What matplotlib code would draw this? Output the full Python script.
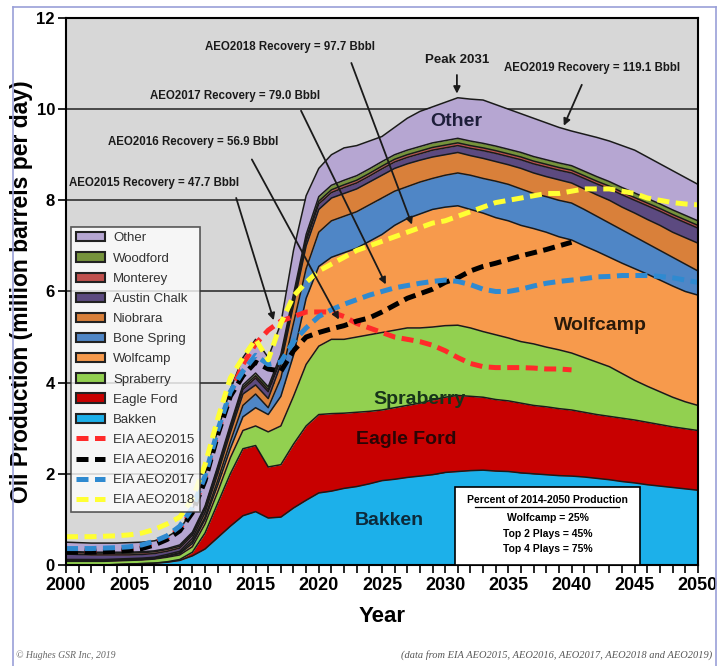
import numpy as np
import matplotlib
matplotlib.use("Agg")
import matplotlib.pyplot as plt
from matplotlib.patches import Patch, Rectangle
from matplotlib.lines import Line2D

plt.rcParams['font.family'] = ['Liberation Sans', 'DejaVu Sans']

years = np.arange(2000, 2051)
years_2040 = np.arange(2000, 2041)

# cumulative top of each play (million barrels per day), bottom to top
bakken_top = [0.0, 0.0, 0.0, 0.0, 0.01, 0.02, 0.03, 0.04, 0.06, 0.1,
              0.2, 0.35, 0.6, 0.85, 1.08, 1.17, 1.03, 1.05, 1.25, 1.42,
              1.58, 1.62, 1.68, 1.72, 1.78, 1.85, 1.88, 1.92, 1.95, 1.98,
              2.03, 2.05, 2.07, 2.08, 2.06, 2.05, 2.02, 2.0, 1.98, 1.96,
              1.95, 1.93, 1.9, 1.87, 1.83, 1.8, 1.76, 1.73, 1.7, 1.67, 1.64]
eagle_ford_top = [0.0, 0.0, 0.0, 0.0, 0.01, 0.02, 0.03, 0.04, 0.07, 0.12,
                  0.28, 0.7, 1.35, 2.0, 2.55, 2.62, 2.15, 2.2, 2.65, 3.05,
                  3.3, 3.32, 3.33, 3.35, 3.37, 3.4, 3.45, 3.5, 3.55, 3.62,
                  3.68, 3.72, 3.7, 3.68, 3.63, 3.6, 3.55, 3.5, 3.47, 3.43,
                  3.4, 3.35, 3.3, 3.26, 3.22, 3.18, 3.13, 3.08, 3.03, 2.99, 2.95]
spraberry_top = [0.08, 0.08, 0.08, 0.08, 0.09, 0.1, 0.11, 0.13, 0.17, 0.22,
                 0.4, 0.9, 1.6, 2.35, 2.95, 3.05, 2.92, 3.05, 3.7, 4.4,
                 4.8, 4.95, 4.95, 5.0, 5.05, 5.1, 5.15, 5.2, 5.2, 5.22,
                 5.25, 5.26, 5.2, 5.12, 5.05, 4.98, 4.9, 4.85, 4.78, 4.72,
                 4.65, 4.55, 4.45, 4.35, 4.2, 4.05, 3.92, 3.8, 3.68, 3.58, 3.5]
wolfcamp_top = [0.09, 0.09, 0.09, 0.09, 0.1, 0.11, 0.12, 0.14, 0.19, 0.25,
                0.47, 1.0, 1.75, 2.55, 3.25, 3.45, 3.3, 3.7, 4.6, 5.85,
                6.55, 6.75, 6.85, 6.95, 7.1, 7.25, 7.45, 7.6, 7.7, 7.8,
                7.85, 7.88, 7.8, 7.72, 7.62, 7.55, 7.45, 7.38, 7.3, 7.2,
                7.13, 7.0, 6.88, 6.75, 6.62, 6.5, 6.38, 6.25, 6.12, 6.0, 5.92]
bone_spring_top = [0.1, 0.1, 0.1, 0.1, 0.11, 0.12, 0.13, 0.15, 0.2, 0.27,
                   0.52, 1.05, 1.85, 2.7, 3.5, 3.75, 3.45, 4.1, 5.3, 6.5,
                   7.3, 7.55, 7.65, 7.75, 7.9, 8.05, 8.2, 8.3, 8.4, 8.48,
                   8.55, 8.6, 8.55, 8.48, 8.42, 8.35, 8.25, 8.15, 8.08, 8.0,
                   7.94, 7.8, 7.65, 7.5, 7.35, 7.2, 7.05, 6.9, 6.75, 6.6, 6.45]
niobrara_top = [0.12, 0.12, 0.12, 0.12, 0.13, 0.14, 0.15, 0.17, 0.23, 0.3,
                0.58, 1.15, 2.0, 2.9, 3.75, 3.95, 3.65, 4.4, 5.7, 7.0,
                7.8, 8.05, 8.15, 8.25, 8.4, 8.55, 8.7, 8.8, 8.88, 8.95,
                9.0, 9.05, 8.98, 8.92, 8.85, 8.78, 8.7, 8.6, 8.52, 8.45,
                8.38, 8.25, 8.12, 8.0, 7.85, 7.72, 7.58, 7.45, 7.3, 7.18, 7.06]
austin_chalk_top = [0.24, 0.23, 0.22, 0.22, 0.22, 0.22, 0.23, 0.25, 0.3, 0.37,
                    0.65, 1.23, 2.08, 2.98, 3.85, 4.1, 3.8, 4.5, 5.8, 7.1,
                    7.92, 8.17, 8.28, 8.38, 8.53, 8.69, 8.84, 8.94, 9.02, 9.1,
                    9.15, 9.2, 9.14, 9.09, 9.03, 8.96, 8.89, 8.8, 8.73, 8.66,
                    8.6, 8.48, 8.36, 8.25, 8.12, 8.0, 7.88, 7.76, 7.63, 7.51, 7.39]
monterey_top = [0.28, 0.27, 0.26, 0.26, 0.26, 0.26, 0.27, 0.29, 0.34, 0.41,
                0.69, 1.26, 2.12, 3.02, 3.9, 4.15, 3.85, 4.55, 5.86, 7.16,
                7.98, 8.23, 8.34, 8.44, 8.59, 8.75, 8.9, 9.0, 9.08, 9.16,
                9.21, 9.26, 9.2, 9.15, 9.09, 9.02, 8.95, 8.86, 8.79, 8.72,
                8.66, 8.54, 8.42, 8.31, 8.18, 8.06, 7.94, 7.82, 7.69, 7.57, 7.45]
woodford_top = [0.3, 0.29, 0.28, 0.28, 0.28, 0.28, 0.29, 0.31, 0.36, 0.44,
                0.72, 1.29, 2.16, 3.07, 3.95, 4.21, 3.91, 4.62, 5.94, 7.25,
                8.08, 8.33, 8.44, 8.54, 8.69, 8.85, 9.0, 9.1, 9.18, 9.26,
                9.31, 9.36, 9.3, 9.25, 9.19, 9.12, 9.05, 8.96, 8.89, 8.82,
                8.76, 8.64, 8.52, 8.41, 8.28, 8.16, 8.04, 7.92, 7.79, 7.67, 7.55]
other_top = [0.5, 0.49, 0.48, 0.48, 0.48, 0.49, 0.5, 0.53, 0.62, 0.78,
             1.2, 2.0, 2.95, 3.85, 4.55, 4.95, 4.55, 5.3, 6.9, 8.1,
             8.7, 9.0, 9.15, 9.2, 9.3, 9.4, 9.6, 9.8, 9.95, 10.05,
             10.15, 10.25, 10.22, 10.2, 10.1, 10.0, 9.9, 9.8, 9.7, 9.6,
             9.52, 9.45, 9.38, 9.3, 9.2, 9.1, 8.95, 8.8, 8.65, 8.5, 8.35]

# EIA total tight oil forecasts
aeo2015 = [0.32, 0.32, 0.32, 0.33, 0.34, 0.36, 0.4, 0.48, 0.6, 0.8,
           1.2, 1.9, 2.9, 3.75, 4.4, 4.85, 5.15, 5.35, 5.45, 5.55,
           5.55, 5.55, 5.45, 5.3, 5.2, 5.1, 5.0, 4.95, 4.9, 4.82,
           4.7, 4.55, 4.42, 4.35, 4.33, 4.33, 4.33, 4.32, 4.3, 4.3, 4.28]
aeo2016 = [0.28, 0.28, 0.28, 0.29, 0.3, 0.32, 0.36, 0.44, 0.56, 0.75,
           1.15, 1.85, 2.85, 3.7, 4.15, 4.45, 4.3, 4.25, 4.7, 5.0,
           5.1, 5.18, 5.25, 5.35, 5.42, 5.55, 5.7, 5.85, 5.95, 6.05,
           6.2, 6.3, 6.45, 6.55, 6.62, 6.7, 6.78, 6.85, 6.92, 7.0, 7.08]
aeo2017 = [0.36, 0.36, 0.36, 0.37, 0.38, 0.4, 0.44, 0.52, 0.64, 0.85,
           1.25, 1.95, 2.95, 3.8, 4.25, 4.6, 4.4, 4.45, 4.9, 5.2,
           5.45, 5.6, 5.72, 5.82, 5.92, 6.0, 6.08, 6.13, 6.18, 6.22,
           6.25, 6.22, 6.15, 6.05, 6.0, 6.0, 6.05, 6.12, 6.18, 6.22,
           6.25, 6.28, 6.32, 6.33, 6.35, 6.35, 6.35, 6.33, 6.3, 6.25, 6.2]
aeo2018 = [0.62, 0.62, 0.62, 0.63, 0.64, 0.66, 0.7, 0.78, 0.9, 1.05,
           1.45, 2.2, 3.2, 4.1, 4.55, 4.95, 4.5, 5.3, 5.9, 6.2,
           6.45, 6.6, 6.75, 6.9, 7.0, 7.1, 7.2, 7.3, 7.4, 7.5,
           7.55, 7.65, 7.75, 7.85, 7.95, 8.0, 8.05, 8.1, 8.15, 8.15,
           8.2, 8.25, 8.25, 8.25, 8.2, 8.15, 8.05, 8.0, 7.95, 7.92, 7.9]

plays = ["Bakken", "Eagle Ford", "Spraberry", "Wolfcamp", "Bone Spring",
         "Niobrara", "Austin Chalk", "Monterey", "Woodford", "Other"]
tops = [bakken_top, eagle_ford_top, spraberry_top, wolfcamp_top, bone_spring_top,
        niobrara_top, austin_chalk_top, monterey_top, woodford_top, other_top]
colors = ["#1cb0ea", "#c80000", "#92d050", "#f79a4c", "#4f86c6",
          "#d9803a", "#5c4a80", "#c0504d", "#76933c", "#b6a6d2"]

fig = plt.figure(figsize=(7.23, 6.66), dpi=100)
ax = fig.add_axes([0.0913, 0.1517, 0.874, 0.8213])
ax.set_facecolor("#d7d7d7")

for yv in [2, 4, 6, 8, 10]:
    ax.axhline(yv, color="#3c3c3c", lw=1.3, zorder=1)

prev = np.zeros(len(years))
for name, top, c in zip(plays, tops, colors):
    ax.fill_between(years, prev, top, color=c, lw=0, zorder=2)
    ax.plot(years, top, color="#1a1a1a", lw=1.1, zorder=3)
    prev = np.array(top)

dash = (0, (2.4, 1.3))
ax.plot(years_2040, aeo2015, color="#ff2a2a", lw=3.6, ls=dash, zorder=4)
ax.plot(years_2040, aeo2016, color="black", lw=3.6, ls=dash, zorder=4)
ax.plot(years, aeo2017, color="#2f8ad0", lw=3.6, ls=dash, zorder=4)
ax.plot(years, aeo2018, color="#ffff33", lw=3.6, ls=dash, zorder=5)

ax.set_xlim(2000, 2050)
ax.set_ylim(0, 12)
ax.set_xticks(range(2000, 2051, 5))
ax.set_xticks(range(2000, 2051), minor=True)
ax.set_yticks(range(0, 13, 2))
ax.tick_params(axis="both", which="both", direction="out", length=6, width=1.2,
               labelsize=13, pad=3)
ax.tick_params(axis="y", labelsize=12, pad=2)
for lab in ax.get_xticklabels() + ax.get_yticklabels():
    lab.set_fontweight("bold")
for s in ax.spines.values():
    s.set_linewidth(1.5)
    s.set_zorder(6)

ax.set_xlabel("Year", fontsize=16, fontweight="bold", labelpad=8)
ax.set_ylabel("Oil Production (million barrels per day)", fontsize=16.5,
              fontweight="bold")
ax.yaxis.set_label_coords(-0.053, 0.5)

# legend
handles = [Patch(facecolor=c, edgecolor="#222222", lw=1.5) for c in colors[::-1]]
labels = plays[::-1]
for c, lab in [("#ff2a2a", "EIA AEO2015"), ("black", "EIA AEO2016"),
               ("#2f8ad0", "EIA AEO2017"), ("#ffff33", "EIA AEO2018")]:
    handles.append(Line2D([], [], color=c, lw=3.6, ls=dash))
    labels.append(lab)
leg = ax.legend(handles, labels, loc="upper left", bbox_to_anchor=(0.008, 0.618),
                fontsize=9.5, frameon=True, fancybox=False, labelspacing=0.6,
                handlelength=2.2, handletextpad=0.6, borderpad=0.4,
                borderaxespad=0)
leg.get_frame().set_edgecolor("#333333")
leg.get_frame().set_linewidth(1.2)
for t in leg.get_texts():
    t.set_color("#333333")
leg.set_zorder(7)

# recovery annotations
narrow = ["Liberation Sans Narrow", "Liberation Sans", "DejaVu Sans"]
notes = [
    ("AEO2015 Recovery = 47.7 Bbbl", (2007.0, 8.38), (2013.4, 8.11), (2016.5, 5.31)),
    ("AEO2016 Recovery = 56.9 Bbbl", (2010.05, 9.28), (2014.6, 8.95), (2021.7, 5.33)),
    ("AEO2017 Recovery = 79.0 Bbbl", (2013.4, 10.29), (2018.5, 10.02), (2025.4, 6.1)),
    ("AEO2018 Recovery = 97.7 Bbbl", (2017.7, 11.36), (2022.5, 11.07), (2027.45, 7.41)),
    ("AEO2019 Recovery = 119.1 Bbbl", (2041.6, 10.9), (2040.9, 10.59), (2039.3, 9.58)),
]
for txt, tpos, tail, head in notes:
    ax.text(tpos[0], tpos[1], txt, ha="center", va="center", fontsize=8.3,
            fontweight="bold", family=narrow, color="#1a1a1a", zorder=8)
    ax.annotate("", xy=head, xytext=tail,
                arrowprops=dict(arrowstyle="-|>", color="#1a1a1a", lw=1.3,
                                mutation_scale=10), zorder=8)

ax.text(2030.93, 11.07, "Peak 2031", ha="center", va="center", fontsize=9.5,
        fontweight="bold", family=narrow, color="#1a1a1a", zorder=8)
ax.annotate("", xy=(2030.93, 10.28), xytext=(2030.93, 10.81),
            arrowprops=dict(arrowstyle="-|>", color="#1a1a1a", lw=1.3,
                            mutation_scale=10), zorder=8)

# play labels
ax.text(2030.9, 9.72, "Other", ha="center", va="center", fontsize=14,
        fontweight="bold", color="#1e1e3a", zorder=8)
ax.text(2042.3, 5.26, "Wolfcamp", ha="center", va="center", fontsize=14,
        fontweight="bold", color="#2a1a0a", zorder=8)
ax.text(2028.0, 3.62, "Spraberry", ha="center", va="center", fontsize=14,
        fontweight="bold", color="#17331a", zorder=8)
ax.text(2026.9, 2.75, "Eagle Ford", ha="center", va="center", fontsize=14,
        fontweight="bold", color="#2a0505", zorder=8)
ax.text(2025.6, 0.97, "Bakken", ha="center", va="center", fontsize=14,
        fontweight="bold", color="#0d2a3a", zorder=8)

# production share box
box_x0, box_x1, box_y1 = 2030.78, 2045.41, 1.71
ax.add_patch(Rectangle((box_x0, 0), box_x1 - box_x0, box_y1, facecolor="white",
                       edgecolor="black", lw=1.2, zorder=9))
bx = (box_x0 + box_x1) / 2
ax.text(bx, 1.43, "Percent of 2014-2050 Production", ha="center", va="center",
        fontsize=7.5, fontweight="bold", family=narrow, zorder=10)
ax.plot([bx - 5.7, bx + 5.7], [1.28, 1.28], color="black", lw=0.9, zorder=10)
for yv, txt in [(1.03, "Wolfcamp = 25%"), (0.68, "Top 2 Plays = 45%"),
                (0.35, "Top 4 Plays = 75%")]:
    ax.text(bx, yv, txt, ha="center", va="center", fontsize=7.5,
            fontweight="bold", family=narrow, zorder=10)

# footer and frame
fig.text(0.022, 0.012, "\u00a9 Hughes GSR Inc, 2019", fontsize=7, style="italic",
         family=["Liberation Serif", "DejaVu Serif"], color="#666666")
fig.text(0.985, 0.012, "(data from EIA AEO2015, AEO2016, AEO2017, AEO2018 and AEO2019)",
         fontsize=7.5, style="italic", ha="right",
         family=["Liberation Serif", "DejaVu Serif"], color="#555555")
frame_kw = dict(color="#9aa0d8", lw=1.2, transform=fig.transFigure)
fig.add_artist(Line2D([0.018, 0.018], [0.0, 0.99], **frame_kw))
fig.add_artist(Line2D([0.99, 0.99], [0.0, 0.99], **frame_kw))
fig.add_artist(Line2D([0.018, 0.99], [0.99, 0.99], **frame_kw))

fig.savefig("out.png", dpi=100)
